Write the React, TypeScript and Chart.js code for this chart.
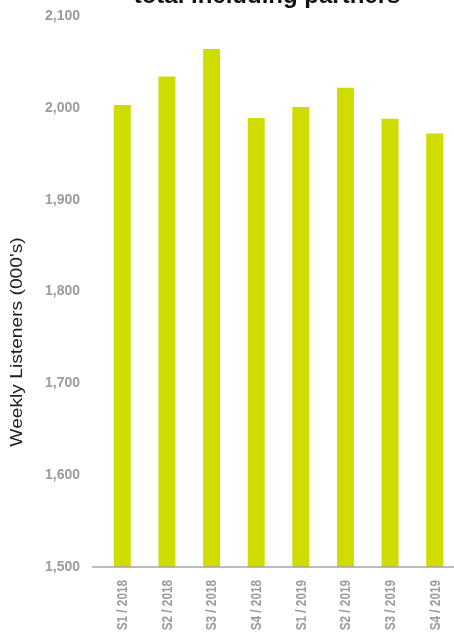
import { useEffect, useRef } from "react";
import { Chart, registerables } from "chart.js";

Chart.register(...registerables);

// Survey periods along the x axis
const categories = [
  "S1 / 2018",
  "S2 / 2018",
  "S3 / 2018",
  "S4 / 2018",
  "S1 / 2019",
  "S2 / 2019",
  "S3 / 2019",
  "S4 / 2019",
];

// Weekly listeners, thousands
const listeners = [2003, 2034, 2064, 1989, 2001, 2022, 1988, 1972];

// Y axis tick values
const yTicks = [1500, 1600, 1700, 1800, 1900, 2000, 2100];

const chartTitle = "total including partners";
const yAxisTitle = "Weekly Listeners (000's)";

const BAR_COLOR = "#cfdc00";
const TICK_COLOR = "#9b9b9b";
const SANS = "'Liberation Sans', Arial, sans-serif";

const fmt = (v: number) => v.toLocaleString("en-US");

// Baseline, condensed category labels, heading and rotated y-axis caption
const decorations = {
  id: "decorations",
  afterDraw(chart: any) {
    const { ctx, chartArea } = chart;
    const xScale = chart.scales.x;
    ctx.save();

    // baseline running a little to the left of the plot area
    ctx.strokeStyle = "#a5a5a5";
    ctx.lineWidth = 1.5;
    ctx.beginPath();
    ctx.moveTo(chartArea.left - 8, chartArea.bottom);
    ctx.lineTo(chart.width, chartArea.bottom);
    ctx.stroke();

    // category labels, rotated and narrowed
    ctx.fillStyle = TICK_COLOR;
    ctx.font = `bold 14px ${SANS}`;
    ctx.textAlign = "right";
    ctx.textBaseline = "middle";
    categories.forEach((label, i) => {
      const x = xScale.getPixelForTick(i);
      ctx.save();
      ctx.translate(x + 1, chartArea.bottom + 13);
      ctx.rotate(-Math.PI / 2);
      ctx.scale(0.84, 1);
      ctx.fillText(label, 0, 0);
      ctx.restore();
    });

    // heading (sits partly above the top edge)
    ctx.fillStyle = "#111";
    ctx.font = `bold 24px ${SANS}`;
    ctx.textAlign = "center";
    ctx.textBaseline = "alphabetic";
    ctx.fillText(chartTitle, 267, 3);

    // y-axis caption
    ctx.translate(22, 342);
    ctx.rotate(-Math.PI / 2);
    ctx.scale(1.2, 1);
    ctx.fillStyle = "#222";
    ctx.font = `16px ${SANS}`;
    ctx.textAlign = "center";
    ctx.textBaseline = "alphabetic";
    ctx.fillText(yAxisTitle, 0, 0);

    ctx.restore();
  },
};

export default function App() {
  const canvasRef = useRef<HTMLCanvasElement | null>(null);

  useEffect(() => {
    const canvas = canvasRef.current;
    if (!canvas) return;
    const chart = new Chart(canvas, {
      type: "bar",
      data: {
        labels: categories,
        datasets: [
          {
            data: listeners,
            backgroundColor: BAR_COLOR,
            borderWidth: 0,
            categoryPercentage: 1,
            barPercentage: 0.38,
          },
        ],
      },
      options: {
        animation: false,
        responsive: false,
        devicePixelRatio: 1,
        layout: { padding: { top: 16, right: 1, left: 0, bottom: 0 } },
        plugins: {
          legend: { display: false },
          tooltip: { enabled: false },
          title: { display: false },
        },
        scales: {
          x: {
            grid: { display: false, drawTicks: false },
            border: { display: false },
            afterFit: (scale: any) => {
              scale.height = 71;
              scale.paddingLeft = 0;
              scale.paddingRight = 0;
            },
            ticks: { display: false, autoSkip: false },
          },
          y: {
            min: 1500,
            max: 2100,
            grid: { display: false, drawTicks: false },
            border: { display: false },
            afterBuildTicks: (scale: any) => {
              scale.ticks = yTicks.map((v) => ({ value: v }));
            },
            afterFit: (scale: any) => {
              scale.width = 100;
              scale.paddingTop = 0;
              scale.paddingBottom = 0;
            },
            ticks: {
              padding: 20,
              color: TICK_COLOR,
              font: { family: SANS, size: 14, weight: "bold" },
              callback: (v: any) => fmt(Number(v)),
            },
          },
        },
      },
      plugins: [decorations],
    });
    return () => chart.destroy();
  }, []);

  return (
    <div
      style={{
        position: "fixed",
        left: 0,
        top: 0,
        width: 454,
        height: 638,
        overflow: "hidden",
        background: "#fff",
      }}
    >
      <canvas
        ref={canvasRef}
        width={458}
        height={638}
        style={{ display: "block", width: 458, height: 638 }}
      />
    </div>
  );
}
